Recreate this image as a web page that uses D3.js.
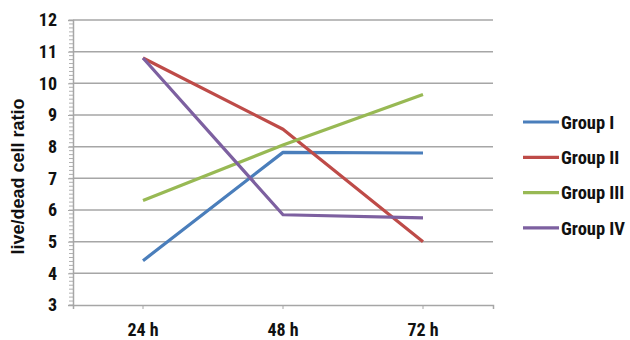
<!DOCTYPE html>
<html>
<head>
<meta charset="utf-8">
<script src="https://cdn.jsdelivr.net/npm/d3@7"></script>
<style>
body { margin: 0; background: #fff; }
svg { display: block; }
text { font-family: "Roboto Condensed", "Liberation Sans", Arial, sans-serif; font-weight: bold; fill: #111; }
</style>
</head>
<body>
<svg id="chart" width="630" height="340"></svg>
<script>
const categories = ["24 h", "48 h", "72 h"];
const groupI = [4.4, 7.82, 7.8];
const groupII = [10.8, 8.55, 5.0];
const groupIII = [6.3, 8.05, 9.65];
const groupIV = [10.8, 5.85, 5.75];
const seriesNames = ["Group I", "Group II", "Group III", "Group IV"];
const seriesColors = ["#4a7ebb", "#be4b48", "#98b954", "#7d60a0"];
const yTicks = [3, 4, 5, 6, 7, 8, 9, 10, 11, 12];
const yLabel = "live/dead cell ratio";

const seriesValues = [groupI, groupII, groupIII, groupIV];
const svg = d3.select("#chart");

const mLeft = 73, mRight = 493, mTop = 20, mBottom = 305;

const x = d3.scaleBand().domain(categories).range([mLeft, mRight]);
const y = d3.scaleLinear().domain([3, 12]).range([mBottom, mTop]);

// gridlines
svg.append("g").selectAll("line").data(yTicks.filter(d => d > 3)).join("line")
  .attr("x1", mLeft).attr("x2", mRight)
  .attr("y1", d => y(d)).attr("y2", d => y(d))
  .attr("stroke", "#a6a6a6").attr("stroke-width", 1.5);

// minor ticks
const minor = d3.range(3, 12.0001, 0.125);
svg.append("g").selectAll("line").data(minor).join("line")
  .attr("x1", mLeft - 4).attr("x2", mLeft)
  .attr("y1", d => y(d)).attr("y2", d => y(d))
  .attr("stroke", "#b0b0b0").attr("stroke-width", 1);

// y axis
const yAxis = svg.append("g").attr("transform", `translate(${mLeft},0)`)
  .call(d3.axisLeft(y).tickValues(yTicks).tickFormat(d3.format("d")).tickSize(5).tickPadding(11));
yAxis.select(".domain").attr("stroke", "#a6a6a6").attr("stroke-width", 1.5);
yAxis.selectAll(".tick line").attr("stroke", "#a6a6a6");
yAxis.selectAll("text").style("font-size", "18px").style("font-family", "'Roboto Condensed', sans-serif").attr("fill", "#111");

// x axis
const xAxis = svg.append("g").attr("transform", `translate(0,${mBottom})`)
  .call(d3.axisBottom(x).tickSizeInner(4).tickSizeOuter(4).tickPadding(14));
xAxis.select(".domain").attr("stroke", "#a6a6a6").attr("stroke-width", 1.5);
xAxis.selectAll(".tick line").attr("stroke", "#a6a6a6");
xAxis.selectAll("text").style("font-size", "18px").style("font-family", "'Roboto Condensed', sans-serif").attr("fill", "#111");

// y label
svg.append("text")
  .attr("transform", `translate(24,${(mTop + mBottom) / 2 + 14}) rotate(-90)`)
  .attr("text-anchor", "middle")
  .style("font-family", "'Liberation Sans', Arial, sans-serif")
  .style("font-size", "18px")
  .text(yLabel);

// lines
const line = d3.line()
  .x((d, i) => x(categories[i]) + x.bandwidth() / 2)
  .y(d => y(d));

svg.append("g").selectAll("path").data(seriesValues).join("path")
  .attr("d", d => line(d))
  .attr("fill", "none")
  .attr("stroke", (d, i) => seriesColors[i])
  .attr("stroke-width", 3.2)
  .attr("stroke-linejoin", "round");

// legend
const legend = svg.append("g").selectAll("g").data(seriesNames).join("g")
  .attr("transform", (d, i) => `translate(523,${122 + i * 35.3})`);
legend.append("line")
  .attr("x1", 0).attr("x2", 36).attr("y1", 0).attr("y2", 0)
  .attr("stroke", (d, i) => seriesColors[i]).attr("stroke-width", 3.2);
legend.append("text")
  .attr("x", 38).attr("y", 0).attr("dy", "0.36em")
  .style("font-size", "18.5px")
  .text(d => d);
</script>
</body>
</html>
